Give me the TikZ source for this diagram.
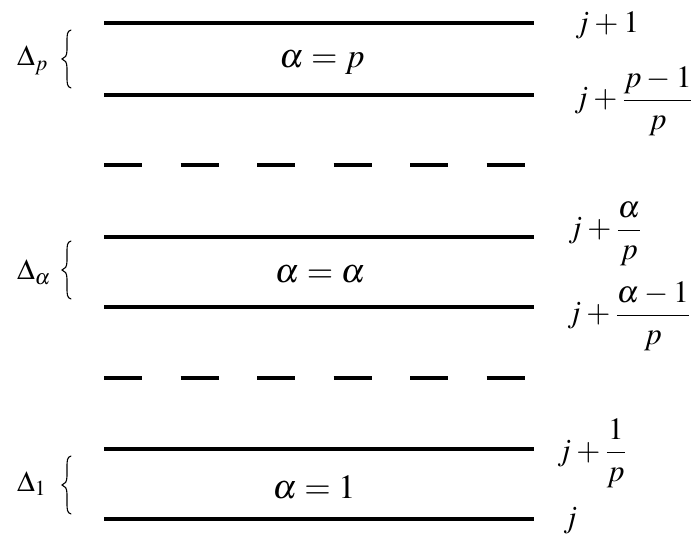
\documentclass[tikz,border=0pt]{standalone}
\usepackage{mathptmx}
\newcommand{\tsp}{\medmuskip=3mu\relax}
\begin{document}
\begin{tikzpicture}[x=1pt,y=-1pt,
  rule/.style={line width=3.5pt},
  dashrule/.style={line width=3.5pt,dash pattern=on 38pt off 38.5pt},
  mid/.style={font=\fontsize{34}{40}\selectfont,anchor=base,inner sep=0pt},
  lab/.style={font=\fontsize{31}{37}\selectfont,anchor=base west,inner sep=0pt},
  dl/.style={font=\fontsize{29}{34}\selectfont,anchor=base west,inner sep=0pt},
  lbrace/.pic={\draw[line width=1.1pt,line cap=round]
     (5,-29) .. controls (1,-28) and (1,-24) .. (1,-18) -- (1,-9)
     .. controls (1,-3) and (-1,-1) .. (-4,0)
     .. controls (-1,1) and (1,3) .. (1,9) -- (1,18)
     .. controls (1,24) and (1,28) .. (5,29);}
]
\useasboundingbox (0,0) rectangle (691,537);
% line end points
\coordinate (a1) at (104,23);  \coordinate (b1) at (534,23);
\coordinate (a2) at (104,95);  \coordinate (b2) at (534,95);
\coordinate (a3) at (104,165); \coordinate (b3) at (534,165);
\coordinate (a4) at (104,237); \coordinate (b4) at (534,237);
\coordinate (a5) at (104,307); \coordinate (b5) at (534,307);
\coordinate (a6) at (104,378); \coordinate (b6) at (534,378);
\coordinate (a7) at (104,449); \coordinate (b7) at (534,449);
\coordinate (a8) at (104,519); \coordinate (b8) at (534,519);
\draw[rule] (a1) -- (b1);
\draw[rule] (a2) -- (b2);
\draw[dashrule] (a3) -- (b3);
\draw[rule] (a4) -- (b4);
\draw[rule] (a5) -- (b5);
\draw[dashrule] (a6) -- (b6);
\draw[rule] (a7) -- (b7);
\draw[rule] (a8) -- (b8);
% middle labels
\node[mid] (mp) at (322,68) {$\alpha = p$};
\node[mid] (ma) at (320,283) {$\alpha = \alpha$};
\node[mid] (m1) at (314,498) {$\alpha = 1$};
% right labels
\node[lab] (r1) at (575,33) {$\tsp j+1$};
\node[lab] (r2) at (574,108) {$\tsp\displaystyle j+\frac{p-1}{p}$};
\node[lab] (r3) at (568,238) {$\tsp\displaystyle j+\frac{\alpha}{p}$};
\node[lab] (r4) at (567,323) {$\tsp\displaystyle j+\frac{\alpha-1}{p}$};
\node[lab] (r5) at (557,460) {$\tsp\displaystyle j+\frac{1}{p}$};
\node[lab] (r6) at (563,527) {$j$};
% left labels and braces
\node[dl] (dp) at (17,66) {$\Delta_{p}$};
\node[dl] (da) at (17,280) {$\Delta_{\alpha}$};
\node[dl] (d1) at (17,491) {$\Delta_{1}$};
\pic at (66,59) {lbrace};
\pic at (66,270) {lbrace};
\pic at (66,485) {lbrace};
\end{tikzpicture}
\end{document}
